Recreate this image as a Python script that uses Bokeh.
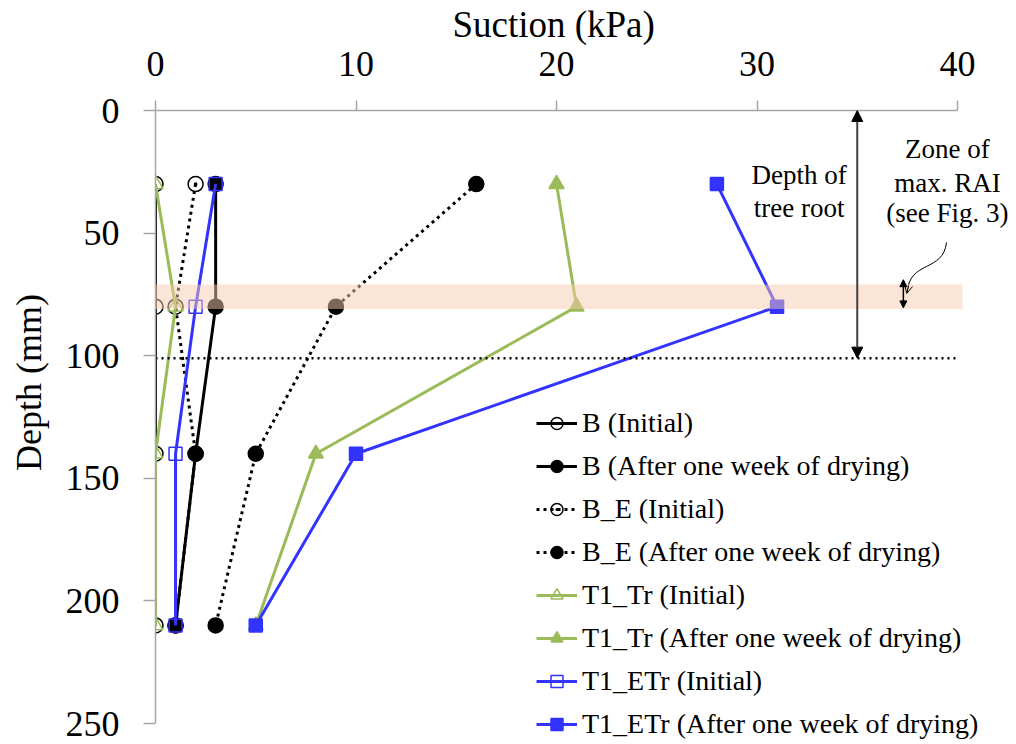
from bokeh.plotting import figure
from bokeh.models import (Range1d, FixedTicker, Legend, LegendItem, BoxAnnotation,
                          Arrow, NormalHead, OpenHead, Label)
from bokeh.embed import file_html
from bokeh.resources import INLINE

# Suction profiles (kPa) measured at four depths (mm)
depth_mm = [30, 80, 140, 210]
b_initial = [0, 0, 0, 0]
b_dried = [3, 3, 2, 1]
be_initial = [2, 1, 2, 1]
be_dried = [16, 9, 5, 3]
t1tr_initial = [0, 1, 0, 0]
t1tr_dried = [20, 21, 8, 5]
t1etr_initial = [3, 2, 1, 1]
t1etr_dried = [28, 31, 10, 5]

x_ticks = [0, 10, 20, 30, 40]
y_ticks = [0, 50, 100, 150, 200, 250]

# Annotated zones (mm)
ROOT_DEPTH = 101
RAI_TOP, RAI_BOTTOM = 71, 81

FONT = "Liberation Serif"
GREEN = "#9BBB59"
BLUE = "#3333FF"
AXIS_GREY = "#A6A6A6"
NBSP = "\u00a0"

# The plotting area runs to the right and bottom edges of the canvas so that the
# captions and the legend can sit beyond the axis extents; the axes are bounded.
W, H = 1016, 744
LEFT, TOP = 155, 110
PX_PER_KPA = 802 / 40
PX_PER_MM = 613 / 250
x_end = (W - LEFT) / PX_PER_KPA
y_end = (H - TOP) / PX_PER_MM

p = figure(width=W, height=H, output_backend="svg", toolbar_location=None,
           x_axis_location="above", x_range=Range1d(0, x_end), y_range=Range1d(y_end, 0),
           min_border_left=LEFT, min_border_right=0, min_border_top=TOP,
           min_border_bottom=0)
p.outline_line_color = None
p.xgrid.visible = False
p.ygrid.visible = False

for ax in (p.xaxis[0], p.yaxis[0]):
    ax.axis_line_color = AXIS_GREY
    ax.axis_line_width = 1.5
    ax.major_tick_line_color = AXIS_GREY
    ax.major_tick_line_width = 1.5
    ax.major_tick_in = 0
    ax.minor_tick_line_color = None
    ax.major_label_text_font = FONT
    ax.major_label_text_font_size = "36px"
    ax.major_label_text_color = "black"
    ax.axis_label_text_font = FONT
    ax.axis_label_text_font_style = "normal"
    ax.axis_label_text_color = "black"

p.xaxis.axis_label_text_font_size = "37px"
p.yaxis.axis_label_text_font_size = "36px"
p.xaxis.ticker = FixedTicker(ticks=x_ticks)
p.yaxis.ticker = FixedTicker(ticks=y_ticks)
p.xaxis.bounds = (x_ticks[0], x_ticks[-1])
p.yaxis.bounds = (y_ticks[0], y_ticks[-1])
p.xaxis.axis_label = "Suction (kPa)" + NBSP * 7
p.yaxis.axis_label = NBSP * 10 + "Depth (mm)"
p.xaxis.major_tick_out = 10
p.yaxis.major_tick_out = 12
p.xaxis.major_label_standoff = 25
p.yaxis.major_label_standoff = 24
p.xaxis.axis_label_standoff = 4
p.yaxis.axis_label_standoff = 14

series = [
    ("B (Initial)", b_initial, "black", "solid", "circle", False),
    ("B (After one week of drying)", b_dried, "black", "solid", "circle", True),
    ("B_E (Initial)", be_initial, "black", "dotted", "circle_dot", False),
    ("B_E (After one week of drying)", be_dried, "black", "dotted", "circle", True),
    ("T1_Tr (Initial)", t1tr_initial, GREEN, "solid", "triangle", False),
    ("T1_Tr (After one week of drying)", t1tr_dried, GREEN, "solid", "triangle", True),
    ("T1_ETr (Initial)", t1etr_initial, BLUE, "solid", "square", False),
    ("T1_ETr (After one week of drying)", t1etr_dried, BLUE, "solid", "square", True),
]

sizes = {"circle": 15, "circle_dot": 15, "triangle": 15, "square": 13}

items = []
for name, suction, color, dash, marker, filled in series:
    ln = p.line(suction, depth_mm, line_color=color, line_width=3,
                line_dash="3 4" if dash == "dotted" else "solid")
    sc = p.scatter(suction, depth_mm, marker=marker, size=sizes[marker],
                   line_color=color, line_width=1.5,
                   fill_color=color if filled else None,
                   fill_alpha=1.0 if filled else 0.0)
    items.append(LegendItem(label=name, renderers=[ln, sc]))

legend = Legend(items=items, location=(381, 4), padding=0, margin=0, spacing=11,
                glyph_width=41, glyph_height=30, label_standoff=5,
                label_text_font=FONT, label_text_font_size="28px",
                label_text_color="black",
                border_line_alpha=0, background_fill_alpha=0)
p.add_layout(legend)

# Zone of maximum root area index
p.add_layout(BoxAnnotation(left=-0.1, right=40.25, top=RAI_TOP, bottom=RAI_BOTTOM,
                           fill_color="#F8CBAD", fill_alpha=0.5, line_color=None))

# Root depth: dotted line and vertical double arrow
p.segment(x0=[0], y0=[ROOT_DEPTH], x1=[39.9], y1=[ROOT_DEPTH], line_color="black",
          line_width=2.5, line_dash="2 4")
p.add_layout(Arrow(x_start=35, y_start=ROOT_DEPTH, x_end=35, y_end=0,
                   line_color="#404040", line_width=2,
                   start=NormalHead(size=11, fill_color="black", line_color="black"),
                   end=NormalHead(size=11, fill_color="black", line_color="black")))

# Small double arrow marking the RAI zone
p.add_layout(Arrow(x_start=37.3, y_start=RAI_TOP - 2, x_end=37.3, y_end=RAI_BOTTOM - 0.5,
                   line_color="black", line_width=1.5,
                   start=NormalHead(size=7, fill_color="black", line_color="black"),
                   end=NormalHead(size=7, fill_color="black", line_color="black")))

# Curved leader from the zone caption
p.bezier(x0=[39.45], y0=[53.8], x1=[37.5], y1=[74.0], cx0=[39.3], cy0=[66.0],
         cx1=[37.6], cy1=[61.0], line_color="black", line_width=1)
p.add_layout(Arrow(x_start=37.56, y_start=71.5, x_end=37.47, y_end=74.6,
                   line_color="black", line_width=1,
                   end=OpenHead(size=8, line_color="black", line_width=1)))

def caption(text, x, y):
    p.add_layout(Label(x=x, y=y, text=text, text_font=FONT, text_font_size="27px",
                       text_align="center", text_baseline="middle", text_color="black"))

caption("Depth of", 32.1, 26.5)
caption("tree root", 32.1, 39.6)
caption("Zone of", 39.5, 15.9)
caption("max. RAI", 39.5, 29.4)
caption("(see Fig. 3)", 39.5, 42.0)

open("out.html", "w").write(file_html(p, INLINE))
